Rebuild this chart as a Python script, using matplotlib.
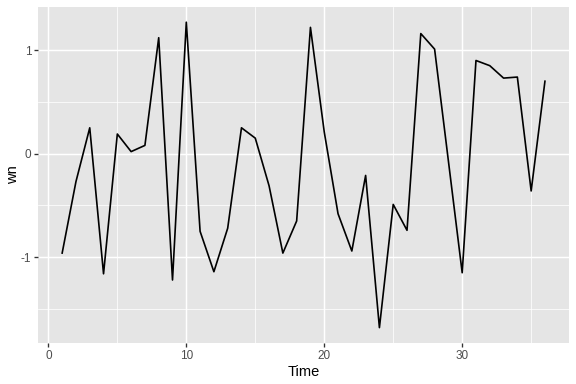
import matplotlib
matplotlib.use('Agg')
import matplotlib.pyplot as plt
from matplotlib.ticker import MultipleLocator

plt.rcParams['font.family'] = ['Liberation Sans', 'DejaVu Sans']

time = list(range(1, 37))
wn = [-0.96, -0.27, 0.25, -1.16, 0.19, 0.02, 0.08, 1.12, -1.22, 1.27,
      -0.75, -1.14, -0.72, 0.25, 0.15, -0.31, -0.96, -0.65, 1.22, 0.21,
      -0.58, -0.94, -0.21, -1.68, -0.49, -0.74, 1.16, 1.01, -0.07, -1.15,
      0.90, 0.85, 0.73, 0.74, -0.36, 0.70]

fig = plt.figure(figsize=(6, 4), dpi=96)
ax = fig.add_axes([0.066, 0.107, 0.922, 0.875])
ax.set_facecolor('#E5E5E5')

ax.plot(time, wn, color='black', lw=1.25, zorder=3)

ax.set_xlim(-0.75, 37.75)
ax.set_ylim(-1.8275, 1.4175)
ax.xaxis.set_major_locator(MultipleLocator(10))
ax.xaxis.set_minor_locator(MultipleLocator(5))
ax.yaxis.set_major_locator(MultipleLocator(1))
ax.yaxis.set_minor_locator(MultipleLocator(0.5))
ax.set_yticks([-1, 0, 1])
ax.set_yticklabels(['-1', '0', '1'])

ax.grid(which='major', color='white', lw=1.1)
ax.grid(which='minor', color='white', lw=0.55)
ax.set_axisbelow(True)
for s in ax.spines.values():
    s.set_visible(False)

ax.tick_params(which='major', length=2.75, width=1.0, color='#333333',
               labelcolor='#4D4D4D', labelsize=8.8, pad=2.2)
ax.tick_params(which='minor', length=0)

ax.set_xlabel('Time', fontsize=11, labelpad=2.75)
ax.set_ylabel('wn', fontsize=11)
ax.yaxis.set_label_coords(-0.034, 0.5)

fig.savefig('out.png', dpi=96)
